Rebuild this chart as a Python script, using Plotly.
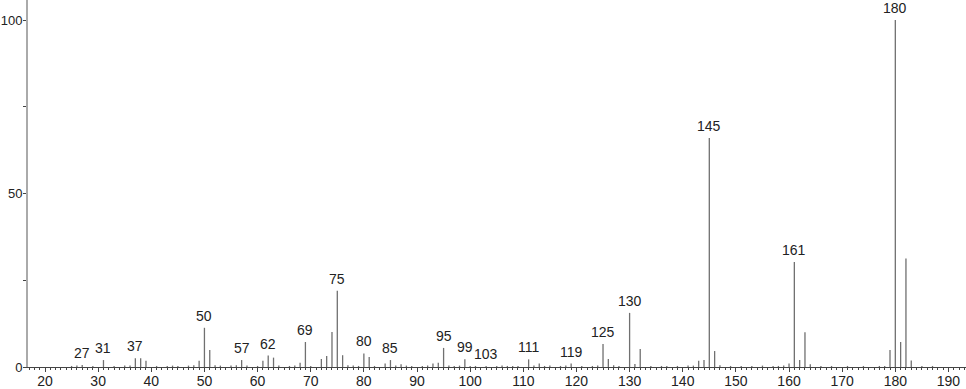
import plotly.graph_objects as go

# m/z values and relative intensities
mz = [25, 26, 27, 29, 31, 33, 35, 36, 37, 38, 39, 41, 43, 44, 45, 47, 48, 49, 50, 51,
      52, 53, 55, 56, 57, 58, 60, 61, 62, 63, 64, 66, 67, 68, 69, 70, 72, 73, 74, 75,
      76, 77, 78, 79, 80, 81, 82, 84, 85, 86, 87, 88, 89, 91, 92, 93, 94, 95, 96, 97,
      98, 99, 100, 101, 103, 105, 106, 107, 108, 109, 111, 112, 113, 114, 115, 117, 118, 119, 121, 123,
      124, 125, 126, 127, 128, 130, 131, 132, 134, 136, 137, 139, 141, 142, 143, 144, 145, 146, 147, 149,
      151, 153, 155, 157, 158, 159, 160, 161, 162, 163, 164, 166, 168, 171, 174, 177, 178, 179, 180, 181,
      182, 183, 185, 187]
intensity = [0.3, 0.4, 0.6, 0.3, 2.0, 0.3, 0.4, 0.4, 2.5, 2.5, 1.8, 0.3, 0.3, 0.4, 0.3, 0.4, 0.5, 1.8, 11.3, 4.9,
             0.5, 0.4, 0.4, 0.5, 2.0, 0.4, 0.3, 1.8, 3.3, 2.7, 0.4, 0.3, 0.4, 1.2, 7.2, 0.3, 2.3, 3.2, 10.1, 22.0,
             3.4, 0.5, 0.4, 0.3, 3.9, 2.9, 0.3, 1.0, 2.0, 0.4, 0.8, 0.4, 0.3, 0.3, 0.4, 1.0, 1.2, 5.5, 0.4, 0.3,
             0.4, 2.2, 0.3, 0.3, 0.3, 0.3, 0.4, 0.3, 0.3, 0.3, 2.2, 0.4, 1.0, 0.3, 0.4, 0.3, 0.4, 1.0, 0.3, 0.3,
             0.4, 6.6, 2.3, 0.5, 0.3, 15.6, 0.9, 5.2, 0.3, 0.3, 0.3, 0.3, 0.4, 0.4, 1.8, 2.0, 66.0, 4.6, 0.5, 0.3,
             0.3, 0.3, 0.4, 0.3, 0.3, 0.4, 1.0, 30.3, 2.0, 10.0, 0.8, 0.3, 0.3, 0.3, 0.3, 0.3, 0.3, 4.9, 100.0, 7.2,
             31.3, 1.9, 0.3, 0.3]

# peaks that carry a label
labeled = [27, 31, 37, 50, 57, 62, 69, 75, 80, 85, 95, 99, 103, 111, 119, 125, 130, 145, 161, 180]

x_ticks = list(range(20, 191, 10))
y_ticks = [0, 50, 100]

xs, ys = [], []
for m, v in zip(mz, intensity):
    xs += [m, m, None]
    ys += [0, v, None]

fig = go.Figure()
fig.add_trace(go.Scatter(x=xs, y=ys, mode="lines",
                         line=dict(color="#707070", width=1.3),
                         hoverinfo="skip", showlegend=False))

lookup = dict(zip(mz, intensity))
for m in labeled:
    fig.add_annotation(x=m, y=lookup.get(m, 0.3), text=str(m), showarrow=False,
                       yanchor="bottom", xanchor="center", yshift=2,
                       font=dict(family="Liberation Sans", size=14, color="#222"))

fig.update_layout(
    width=966, height=389,
    margin=dict(l=28, r=0, t=0, b=22),
    plot_bgcolor="white", paper_bgcolor="white",
    font=dict(family="Liberation Sans", size=13, color="#222"),
    showlegend=False,
)
fig.update_xaxes(range=[16.8, 193.3], tickvals=x_ticks, ticktext=[str(t) for t in x_ticks],
                 automargin=False, ticklabelstandoff=-3,
                 showgrid=False, zeroline=False, showline=True, linecolor="#444", linewidth=1,
                 ticks="outside", ticklen=4, tickcolor="#444", tickwidth=1,
                 minor=dict(dtick=1, ticks="outside", ticklen=2, tickcolor="#444", showgrid=False),
                 tickfont=dict(size=14))
fig.update_yaxes(range=[0, 105.8], tickvals=y_ticks, ticktext=[str(t) for t in y_ticks],
                 automargin=False, ticklabelstandoff=-2,
                 showgrid=False, zeroline=False, showline=True, linecolor="#aaaaaa", linewidth=2,
                 ticks="outside", ticklen=3, tickcolor="#444", tickwidth=1,
                 minor=dict(tickvals=[25, 75], ticks="outside", ticklen=3, tickcolor="#444", showgrid=False),
                 tickfont=dict(size=13))

fig.write_html("out.html")
